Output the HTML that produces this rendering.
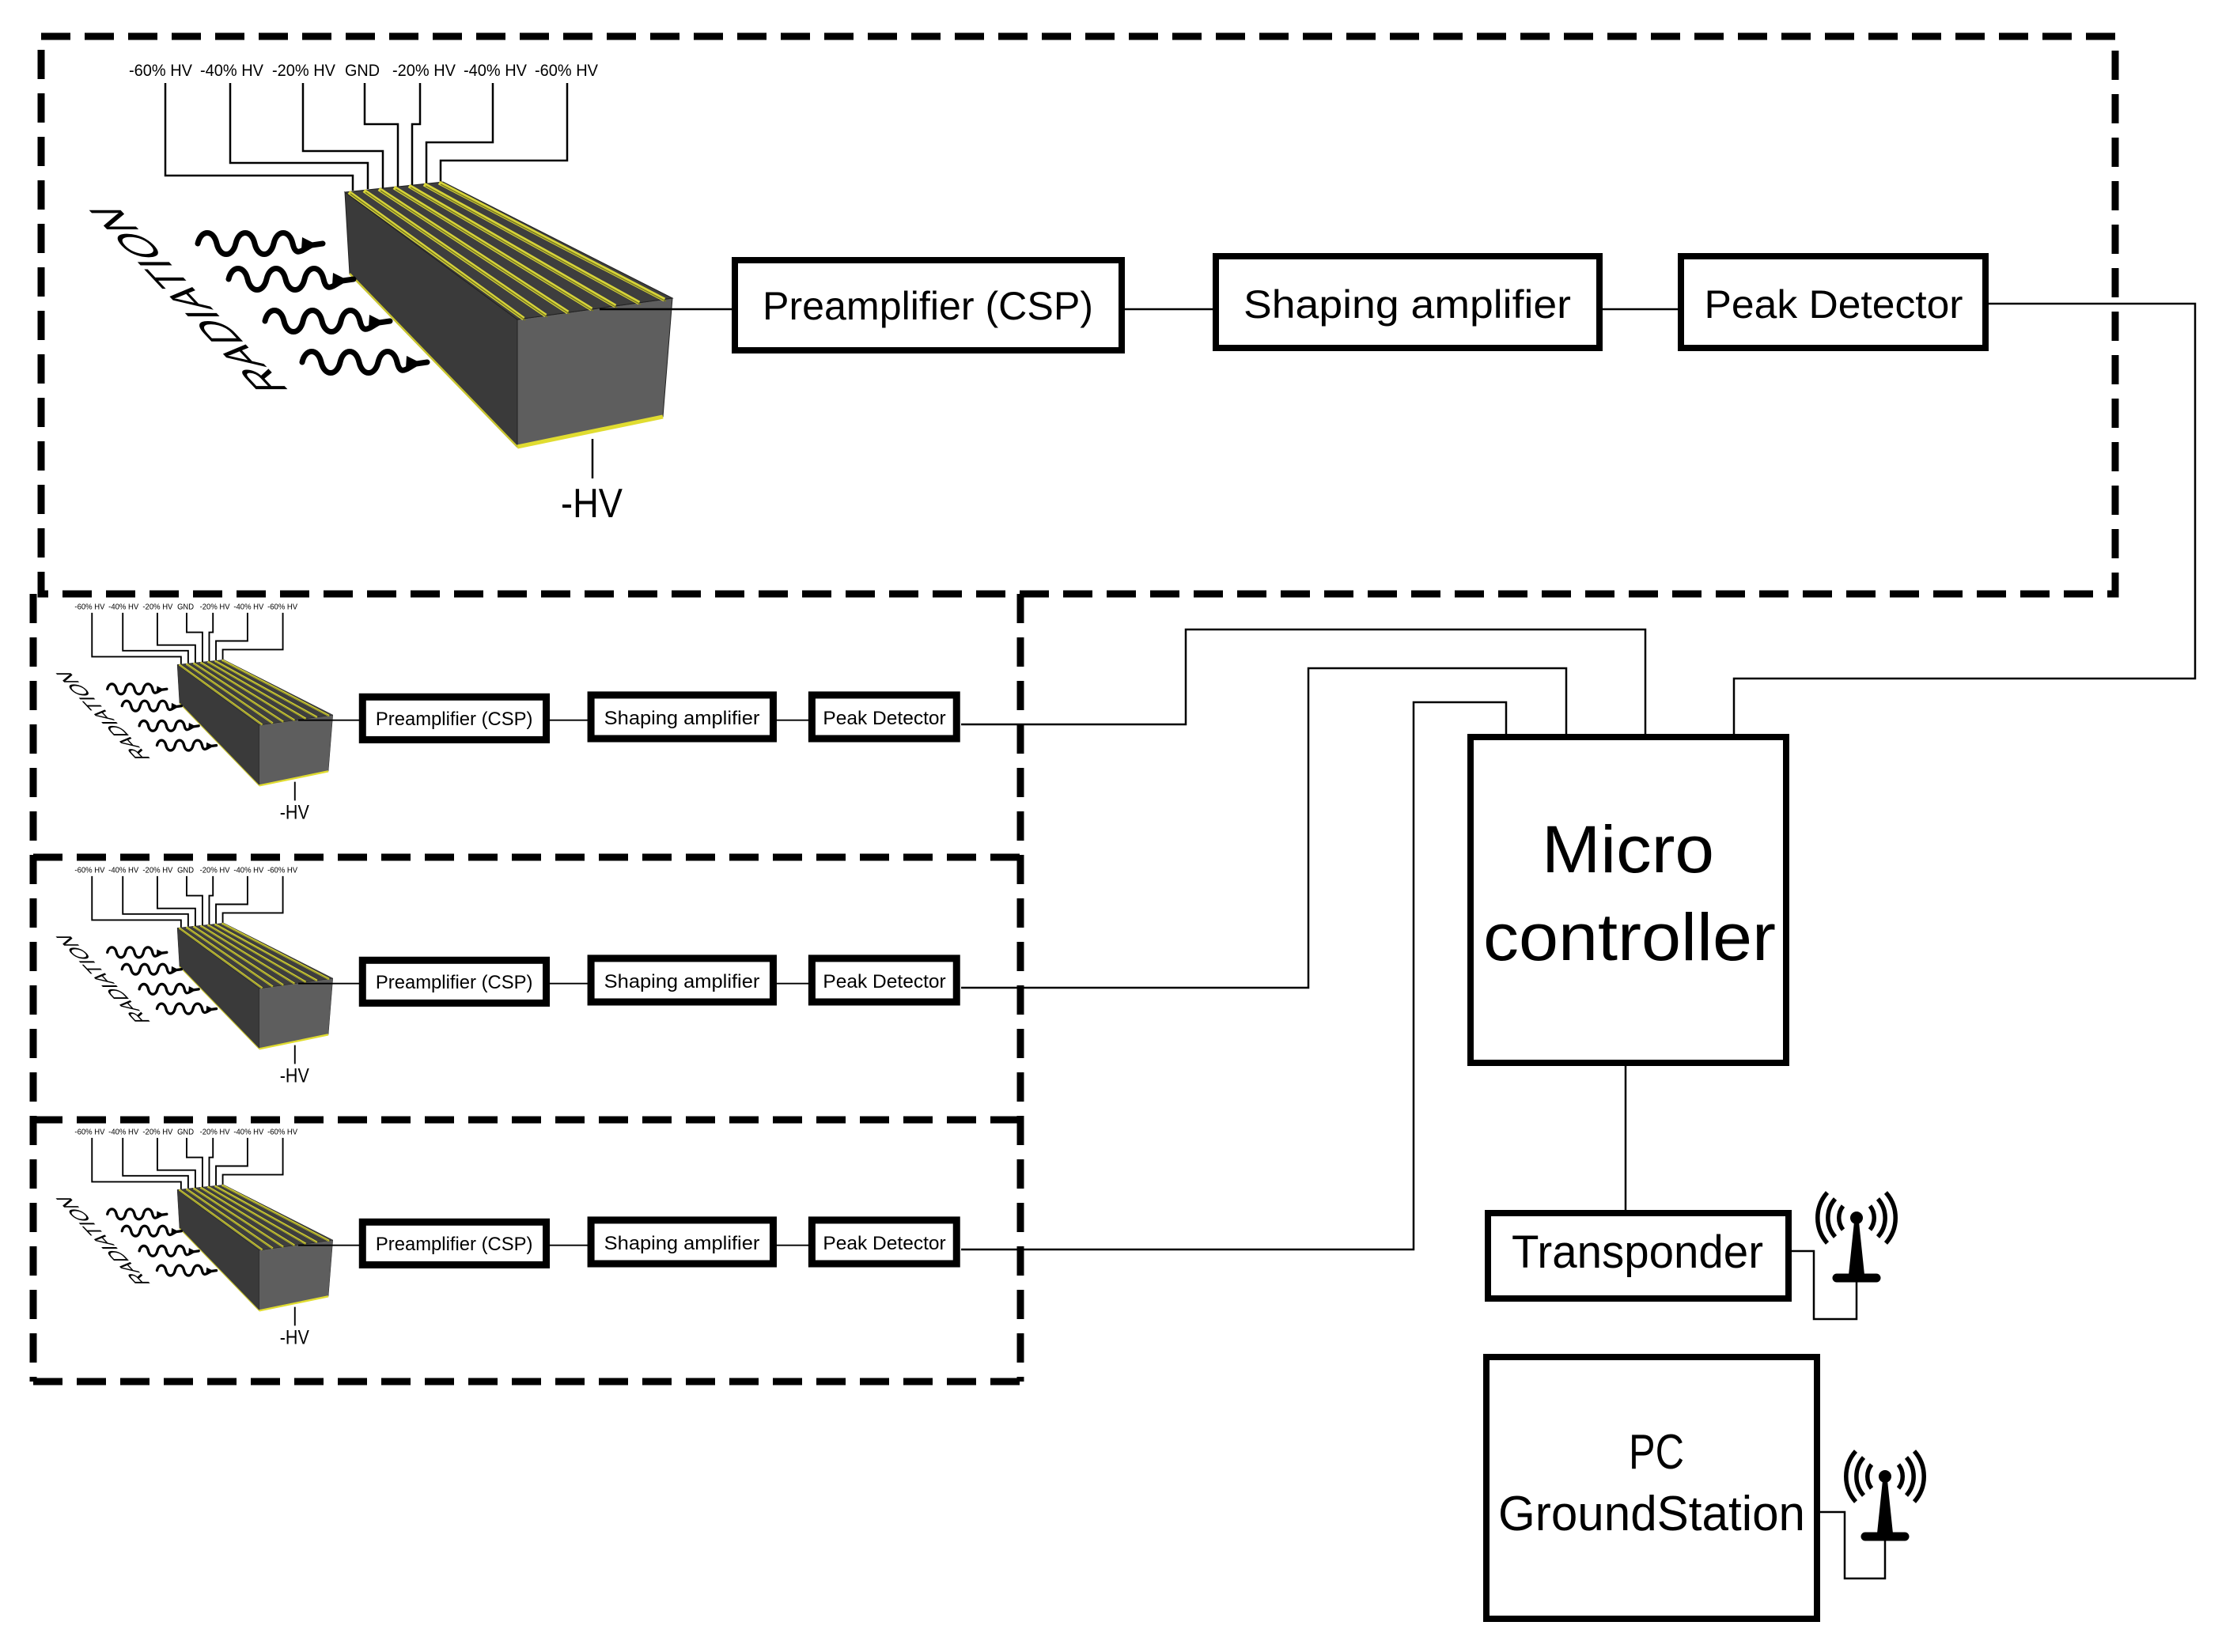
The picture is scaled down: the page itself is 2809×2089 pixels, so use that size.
<!DOCTYPE html>
<html><head><meta charset="utf-8"><style>
html,body{margin:0;padding:0;background:#fff}
svg{display:block}
text{font-family:"Liberation Sans",sans-serif;fill:#000}
</style></head><body>
<svg width="2809" height="2089" viewBox="0 0 2809 2089" xmlns="http://www.w3.org/2000/svg">
<defs>
<g id="det">
  <g font-size="21">
    <text x="203" y="96" text-anchor="middle" textLength="80" lengthAdjust="spacingAndGlyphs">-60% HV</text>
    <text x="293" y="96" text-anchor="middle" textLength="80" lengthAdjust="spacingAndGlyphs">-40% HV</text>
    <text x="384" y="96" text-anchor="middle" textLength="80" lengthAdjust="spacingAndGlyphs">-20% HV</text>
    <text x="458" y="96" text-anchor="middle" textLength="44" lengthAdjust="spacingAndGlyphs">GND</text>
    <text x="536" y="96" text-anchor="middle" textLength="80" lengthAdjust="spacingAndGlyphs">-20% HV</text>
    <text x="626" y="96" text-anchor="middle" textLength="80" lengthAdjust="spacingAndGlyphs">-40% HV</text>
    <text x="716" y="96" text-anchor="middle" textLength="80" lengthAdjust="spacingAndGlyphs">-60% HV</text>
  </g>
  <g fill="none" stroke="#000" stroke-width="var(--lw)">
    <polyline points="209,105 209,222 446,222 446,241"/>
    <polyline points="291,105 291,206 465,206 465,239"/>
    <polyline points="383,105 383,191 484,191 484,238"/>
    <polyline points="461,105 461,157 503,157 503,236"/>
    <polyline points="531,105 531,157 521,157 521,235"/>
    <polyline points="623,105 623,180 539,180 539,233"/>
    <polyline points="717,105 717,203 557,203 557,232"/>
  </g>
  <polygon points="436,243 442,346 654,565 654,404" fill="#3a3a3a" stroke="#222" stroke-width="1"/>
  <polygon points="654,404 850,377 838,527 654,565" fill="#5e5e5e" stroke="#222" stroke-width="1"/>
  <polygon points="436,243 560,230 850,377 654,404" fill="#3e3e3e" stroke="#222" stroke-width="1"/>
  <g stroke="#d8d53a" stroke-width="5">
    <line x1="441" y1="243" x2="662" y2="403"/>
    <line x1="460" y1="241" x2="690" y2="399"/>
    <line x1="479" y1="239" x2="718" y2="395"/>
    <line x1="498" y1="237" x2="748" y2="391"/>
    <line x1="517" y1="235" x2="778" y2="387"/>
    <line x1="536" y1="233" x2="808" y2="383"/>
    <line x1="555" y1="231" x2="840" y2="379"/>
  </g>
  <g stroke="#7a7a20" stroke-width="1.5">
    <line x1="443" y1="245" x2="664" y2="405"/>
    <line x1="462" y1="243" x2="692" y2="401"/>
    <line x1="481" y1="241" x2="720" y2="397"/>
    <line x1="500" y1="239" x2="750" y2="393"/>
    <line x1="519" y1="237" x2="780" y2="389"/>
    <line x1="538" y1="235" x2="810" y2="385"/>
    <line x1="557" y1="233" x2="842" y2="381"/>
  </g>
  <line x1="654" y1="565" x2="838" y2="527" stroke="#e0dc30" stroke-width="5"/>
  <line x1="442" y1="346" x2="654" y2="565" stroke="#c8c430" stroke-width="2.5"/>
  <line x1="749" y1="555" x2="749" y2="605" stroke="#000" stroke-width="var(--lw)"/>
  <text x="748" y="654" font-size="52" text-anchor="middle" textLength="78" lengthAdjust="spacingAndGlyphs">-HV</text>
  <text transform="matrix(-0.68 -0.73 1 0 258 379)" font-size="58" text-anchor="middle" textLength="320" lengthAdjust="spacingAndGlyphs">RADIATION</text>
  <g stroke="#000" stroke-width="var(--lw)" fill="none">
    <line x1="758" y1="391" x2="929" y2="391"/>
    <line x1="1418" y1="391" x2="1537" y2="391"/>
    <line x1="2022" y1="391" x2="2125" y2="391"/>
  </g>
  <g fill="#fff" stroke="#000" stroke-width="var(--bw)">
    <rect x="929" y="329" width="489" height="114"/>
    <rect x="1537" y="324" width="485" height="116"/>
    <rect x="2125" y="324" width="385" height="116"/>
  </g>
  <g font-size="50">
    <text x="1173" y="404" text-anchor="middle" textLength="418" lengthAdjust="spacingAndGlyphs">Preamplifier (CSP)</text>
    <text x="1779" y="402" text-anchor="middle" textLength="414" lengthAdjust="spacingAndGlyphs">Shaping amplifier</text>
    <text x="2318" y="402" text-anchor="middle" textLength="327" lengthAdjust="spacingAndGlyphs">Peak Detector</text>
  </g>
</g>
<g id="waves">
  <g fill="none" stroke="#000" stroke-width="7" stroke-linecap="round">
    <path d="M250,308 c4,-18 20,-18 24,0 s20,18 24,0 s20,-18 24,0 s20,18 24,0 s20,-18 24,0 s12,8 24,2 l14,-2"/>
    <path d="M289,353 c4,-18 20,-18 24,0 s20,18 24,0 s20,-18 24,0 s20,18 24,0 s20,-18 24,0 s12,8 24,2 l14,-2"/>
    <path d="M335,406 c4,-18 20,-18 24,0 s20,18 24,0 s20,-18 24,0 s20,18 24,0 s20,-18 24,0 s12,8 24,2 l14,-2"/>
    <path d="M382,458 c4,-18 20,-18 24,0 s20,18 24,0 s20,-18 24,0 s20,18 24,0 s20,-18 24,0 s12,8 24,2 l14,-2"/>
  </g>
  <polygon points="382,300 398,308 381,316" fill="#000"/>
  <polygon points="421,345 437,353 420,361" fill="#000"/>
  <polygon points="467,398 483,406 466,414" fill="#000"/>
  <polygon points="514,450 530,458 513,466" fill="#000"/>
</g>
</defs>

<g style="--lw:2.5;--bw:8">
  <use href="#det"/>
  <use href="#waves"/>
</g>
<g transform="translate(17,725) scale(0.475)" style="--lw:4;--bw:19"><use href="#det"/><use href="#waves"/></g>
<g transform="translate(17,1058) scale(0.475)" style="--lw:4;--bw:19"><use href="#det"/><use href="#waves"/></g>
<g transform="translate(17,1389) scale(0.475)" style="--lw:4;--bw:19"><use href="#det"/><use href="#waves"/></g>

<g fill="none" stroke="#000" stroke-width="9" stroke-dasharray="37 18">
  <rect x="52" y="46" width="2622" height="705"/>
  <line x1="42" y1="751" x2="42" y2="1747"/>
  <line x1="1290" y1="751" x2="1290" y2="1747"/>
  <line x1="42" y1="1084" x2="1290" y2="1084"/>
  <line x1="42" y1="1416" x2="1290" y2="1416"/>
  <line x1="42" y1="1747" x2="1290" y2="1747"/>
</g>

<g fill="none" stroke="#000" stroke-width="2.5">
  <polyline points="2510,384 2775,384 2775,858 2192,858 2192,928"/>
  <polyline points="1215,916 1499,916 1499,796 2080,796 2080,928"/>
  <polyline points="1215,1249 1654,1249 1654,845 1980,845 1980,928"/>
  <polyline points="1215,1580 1787,1580 1787,888 1904,888 1904,928"/>
  <line x1="2055" y1="1348" x2="2055" y2="1530"/>
  <polyline points="2265,1582 2293,1582 2293,1668 2347,1668 2347,1616"/>
  <polyline points="2301,1912 2332,1912 2332,1996 2383,1996 2383,1943"/>
</g>

<g fill="#fff" stroke="#000" stroke-width="8">
  <rect x="1859" y="932" width="399" height="412"/>
  <rect x="1881" y="1534" width="380" height="108"/>
  <rect x="1879" y="1716" width="418" height="331"/>
</g>
<text x="2058" y="1103" font-size="84" text-anchor="middle" textLength="218" lengthAdjust="spacingAndGlyphs">Micro</text>
<text x="2060" y="1214" font-size="84" text-anchor="middle" textLength="370" lengthAdjust="spacingAndGlyphs">controller</text>
<text x="2070" y="1603" font-size="58" text-anchor="middle" textLength="318" lengthAdjust="spacingAndGlyphs">Transponder</text>
<text x="2094" y="1857" font-size="62" text-anchor="middle" textLength="70" lengthAdjust="spacingAndGlyphs">PC</text>
<text x="2088" y="1935" font-size="62" text-anchor="middle" textLength="388" lengthAdjust="spacingAndGlyphs">GroundStation</text>

<g id="ant1">
  <circle cx="2347" cy="1540" r="8" fill="#000"/>
  <polygon points="2344,1545 2350,1545 2357,1612 2337,1612" fill="#000"/>
  <line x1="2322" y1="1616" x2="2372" y2="1616" stroke="#000" stroke-width="11" stroke-linecap="round"/>
  <g fill="none" stroke="#000" stroke-width="5.5">
    <path d="M2330,1525 A24,24 0 0 0 2330,1555"/>
    <path d="M2320,1516 A36,36 0 0 0 2320,1564"/>
    <path d="M2310,1508 A48,48 0 0 0 2310,1572"/>
    <path d="M2364,1525 A24,24 0 0 1 2364,1555"/>
    <path d="M2374,1516 A36,36 0 0 1 2374,1564"/>
    <path d="M2384,1508 A48,48 0 0 1 2384,1572"/>
  </g>
</g>
<use href="#ant1" transform="translate(36,327)"/>
</svg>
</body></html>
